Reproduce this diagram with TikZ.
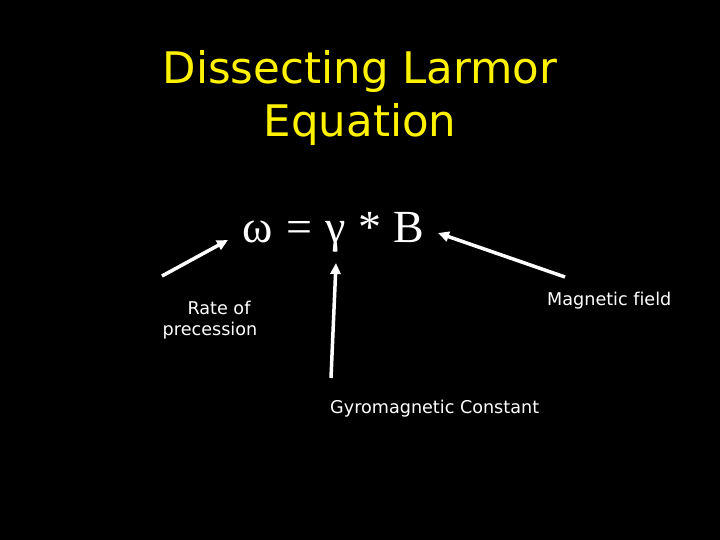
\documentclass[tikz,border=0pt]{standalone}
\usepackage{fontspec}
\setmainfont[Ligatures=NoCommon]{DejaVu Sans}
\newfontfamily\eqfont{Liberation Serif}
\usetikzlibrary{arrows.meta}
\tikzset{
  label/.style={text=white,inner sep=0pt,anchor=base west,font=\fontsize{17.6}{21}\selectfont},
  symb/.style={text=white,inner sep=0pt,anchor=base west,font=\eqfont\fontsize{46}{46}\selectfont},
  pointer/.style={white,line width=3.5pt,-{Triangle[length=11pt,width=10pt]}}
}
\begin{document}
\begin{tikzpicture}[x=1pt,y=-1pt]
\fill[black] (0,0) rectangle (720,540);
\useasboundingbox (0,0) rectangle (720,540);
\node[text=yellow,inner sep=0pt,anchor=base,font=\fontsize{43.5}{53}\selectfont] (title1) at (360,84) {Dissecting Larmor};
\node[text=yellow,inner sep=0pt,anchor=base,font=\fontsize{43.5}{53}\selectfont] (title2) at (360,137) {Equation};
\node[symb] (omega) at (242,242) {ω};
\node[symb] (equals) at (286,242) {=};
\node[symb] (gamma) at (325,242) {γ};
\node[symb] (star) at (358,242) {*};
\node[symb] (field) at (393,242) {B};
\node[label,anchor=base] (rate) at (219,314) {Rate of};
\node[label,anchor=base] (prec) at (210,335) {precession};
\node[label] (gyro) at (330,413) {Gyromagnetic Constant};
\node[label] (magn) at (547,305) {Magnetic field};
\coordinate (omegatail) at (162,276);
\coordinate (omegatip) at (228,240);
\coordinate (gammatail) at (331,378);
\coordinate (gammatip) at (336,263);
\coordinate (fieldtail) at (565,277);
\coordinate (fieldtip) at (438,233);
\draw[pointer] (omegatail) -- (omegatip);
\draw[pointer] (gammatail) -- (gammatip);
\draw[pointer] (fieldtail) -- (fieldtip);
\end{tikzpicture}
\end{document}
